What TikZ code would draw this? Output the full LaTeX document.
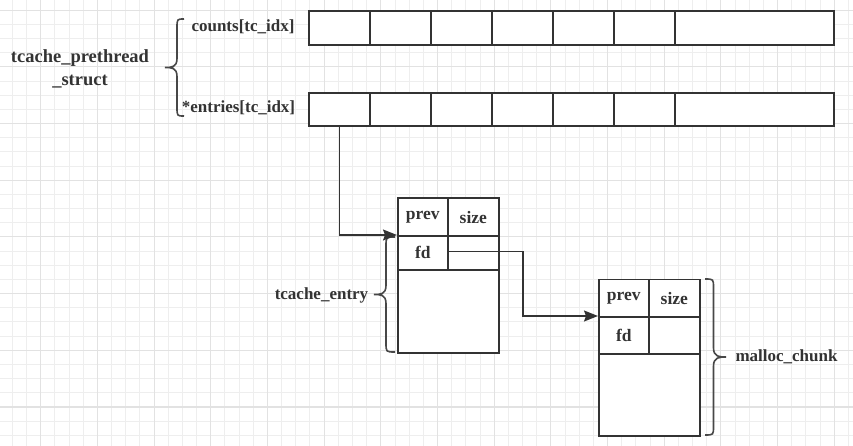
\documentclass[tikz,border=0pt]{standalone}
\usepackage{fontspec}
\setmainfont{Liberation Serif}
\usetikzlibrary{arrows.meta,calc}
\definecolor{ink}{HTML}{333333}
\definecolor{gridminor}{HTML}{EEEEEE}
\definecolor{gridmajor}{HTML}{E2E2E2}
\newcommand\mybraceL[5]{% end x, bar x, tip x, top y, bottom y
  \draw[bracestyle] (#1,#4) .. controls (#2,#4) .. (#2,{#4+9})
    -- (#2,{(#4+#5)/2-9}) .. controls (#2,{(#4+#5)/2}) and ({(#2+#3)/2},{(#4+#5)/2}) .. (#3,{(#4+#5)/2})
    .. controls ({(#2+#3)/2},{(#4+#5)/2}) and (#2,{(#4+#5)/2}) .. (#2,{(#4+#5)/2+9})
    -- (#2,{#5-9}) .. controls (#2,#5) .. (#1,#5);}
\tikzset{
  cell/.style={draw=ink, line width=1.6pt, fill=white, inner sep=0pt, anchor=north west,
    font=\fontsize{17.5}{20}\selectfont\bfseries, text=ink},
  lbl/.style={inner sep=0pt, font=\fontsize{17}{20}\selectfont\bfseries, text=ink},
  conn/.style={draw=ink, line width=1.5pt, -{Stealth[length=14pt,width=11pt,inset=2pt]}},
  bracestyle/.style={draw=ink!90, line width=1.6pt},
  minorline/.style={draw=gridminor, line width=0.9pt},
  majorline/.style={draw=gridmajor, line width=1.1pt}
}
\begin{document}
\begin{tikzpicture}[x=1pt,y=-1pt]
\useasboundingbox (0,0) rectangle (853,446);
\fill[white] (0,0) rectangle (853,446);
\begin{scope}
\clip (0,0) rectangle (853,446);
\foreach \k in {0,...,59} \draw[minorline] ({12.36+14.17*\k},0) -- ++(0,446);
\foreach \k in {0,...,31} \draw[minorline] (0,{10.2+14.17*\k}) -- ++(853,0);
\foreach \k in {0,...,14} \draw[majorline] ({40.7+56.68*\k},0) -- ++(0,446);
\foreach \k in {0,...,7} \draw[majorline] (0,{10.2+56.68*\k}) -- ++(853,0);
\end{scope}

% counts array
\foreach \i/\x in {1/308,2/369,3/430,4/491,5/552,6/613}
  \node[cell, minimum width=61pt, minimum height=33.5pt] (c\i) at (\x,10.5) {};
\node[cell, minimum width=159pt, minimum height=33.5pt] (c7) at (674,10.5) {};
% entries array
\foreach \i/\x in {1/308,2/369,3/430,4/491,5/552,6/613}
  \node[cell, minimum width=61pt, minimum height=33.5pt] (e\i) at (\x,92) {};
\node[cell, minimum width=159pt, minimum height=33.5pt] (e7) at (674,92) {};

% tcache_entry chunk
\node[cell, minimum width=101pt, minimum height=83pt] (bodyA) at (397,269) {};
\node[cell, minimum width=50pt, minimum height=37.5pt] (prevA) at (397,197.5) {prev};
\node[cell, minimum width=51pt, minimum height=37.5pt] (sizeA) at (447,197.5) {size};
\node[cell, minimum width=50pt, minimum height=34pt] (fdA) at (397,235) {fd};
\node[cell, minimum width=51pt, minimum height=34pt] (restA) at (447,235) {};

% malloc_chunk
\node[cell, minimum width=101pt, minimum height=82pt] (bodyB) at (598,353) {};
\node[cell, minimum width=50pt, minimum height=37.5pt] (prevB) at (598,278.5) {prev};
\node[cell, minimum width=51pt, minimum height=37.5pt] (sizeB) at (648,278.5) {size};
\node[cell, minimum width=50pt, minimum height=37pt] (fdB) at (598,316) {fd};
\node[cell, minimum width=51pt, minimum height=37pt] (restB) at (648,316) {};

% labels
\node[lbl, align=center, font=\fontsize{18.5}{22.5}\selectfont\bfseries] (ts) at (80,69) {tcache\_prethread\\\_struct};
\node[lbl] (cnt) at (243,26.5) {counts[tc\_idx]};
\node[lbl] (ent) at (238.5,108) {*entries[tc\_idx]};
\node[lbl] (te) at (321.5,295) {tcache\_entry};
\node[lbl] (mc) at (786.5,357) {malloc\_chunk};

% braces
\mybraceL{184}{177}{165}{19}{116}
\mybraceL{395}{386}{374}{237}{352}
\mybraceL{705}{713.5}{726}{279}{435}

% connectors
\coordinate (turn) at (523,0);
\coordinate (fdout) at ($(fdA.east)+(0,-1.5)$);
\coordinate (bend) at (fdout -| turn);
\draw[conn] (e1.south) |- (fdA.north west);
\draw[conn] (fdout) -- (bend) |- (fdB.north west);
\end{tikzpicture}
\end{document}
